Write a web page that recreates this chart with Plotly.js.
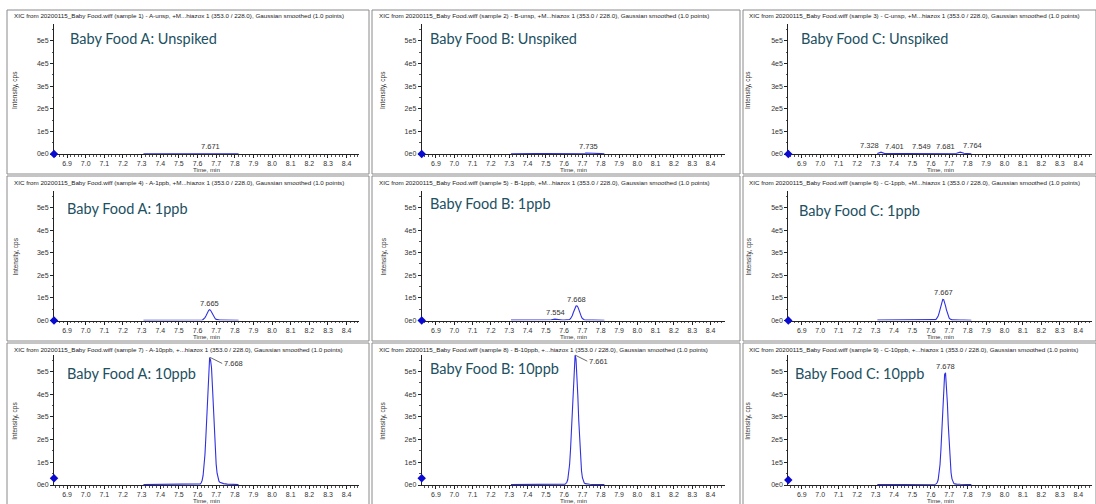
<!DOCTYPE html>
<html><head><meta charset="utf-8">
<script src="https://cdn.plot.ly/plotly-3.0.1.min.js"></script>
<style>html,body{margin:0;padding:0;background:#fff}#chart{width:1096px;height:504px}</style>
</head><body><div id="chart"></div>
<script>
// ---------- DATA ----------
// retention time grid (min)
const timeMin = [7.31,7.33,7.35,7.37,7.39,7.41,7.43,7.45,7.47,7.49,7.51,7.53,7.55,7.57,7.59,
  7.60,7.605,7.61,7.615,7.62,7.625,7.63,7.635,7.64,7.645,7.65,7.655,7.66,7.665,7.67,7.675,7.68,7.685,7.69,7.695,7.70,7.705,7.71,7.715,7.72,7.725,7.73,7.735,7.74,
  7.76,7.78,7.80,7.82];

// intensities (kcps)
const aUnspiked = [1,1,1.5,1,1,1.5,1,1,1.5,1,1.5,2,3,2,1.5,
  1.5,1.5,1.5,1.5,2, 2,2,2,2,2, 2.5,2.5,2.5,3,3, 2.5,2.5,2,2,2, 2,2,1.5,1.5,1.5, 1.5,1.5,1.5,1.5,
  1.5,1.5,1,0.5];
const bUnspiked = [1,1,1,1.5,1,1,1.5,1,1,1,1.5,1,1.5,1,1.5,
  1.5,1.5,1.5,2,2, 2,2,2.5,2.5,3, 3,3,3,3,3, 3,3,3,3,3.5, 3.5,3.5,4,4,4.5, 4.5,5,5,4.5,
  3,2,2,1];
const cUnspiked = [2,8,2,2,3,3.5,2,2,2,2,2,2.5,4,2.5,2,
  2,2,2,2,2, 2,2,2.5,2.5,2.5, 2.5,2.5,3,3,3, 3.5,4,3.5,3,3, 2.5,2.5,2.5,2.5,2.5, 2.5,3,3,3.5,
  8,3,2,1];
const a1ppb = [1,1,1.5,1,1,1,1.5,1,1,1.5,2,2,3,2,1.5,
  1.5,1.5,1.5,1.5,2, 2.5,4.5,7.5,13,20, 29,38,45,47.5,45, 38,29,20,13,8, 5,3.5,3,2.5,2, 2,2,1.5,1.5,
  2,3,2,1];
const b1ppb = [2,2,2,2.5,2,2,2,2,2.5,2,2.5,3,6,3,2,
  2,2,2,2,2, 2.5,4.5,8,13.5,22, 34,47,58,64,65, 60,49,36,24,15, 8.5,5,3,2.5,2, 2,2,2,2,
  2,2,2,1];
const c1ppb = [2,2,2,2,2,2,2,2,2,2,2,2,2.5,2,2,
  2,2,2,2,2.5, 4,6.5,11.5,20,33, 50,69,84,93,92, 82,65,47,30,18, 10,6,3.5,3,3.5, 3,2.5,2.5,2.5,
  2,2,2,1];
const a10ppb = [2,2,2,3,2,2,2,2,3,4,3,3,5,3,2,
  2,3,3,5,10, 21,42,78,135,215, 312,414,512,562,550, 518,435,335,236,152, 92,52,29,17,12, 10,8,7,6,
  4,3,5,2];
const b10ppb = [2,2,3,4,3,2,2,3,3,4,5,4,4,3,3,
  3,4,7,12,24, 48,90,155,244,349, 453,534,572,555,490, 392,285,188,113,63, 32,16,9,6,5, 4,4,3,3,
  2,2,3,2];
const c10ppb = [2,2,2,3,2,2,2,2,2,3,3,3,4,3,3,
  3,3,3,3,3, 3,6,11,23,47, 89,155,244,342,432, 487,494,446,362,263, 171,101,54,27,13, 7,5,4,4,
  3,2,2,2];

const panelTitles = ['Baby Food A: Unspiked','Baby Food B: Unspiked','Baby Food C: Unspiked',
  'Baby Food A: 1ppb','Baby Food B: 1ppb','Baby Food C: 1ppb',
  'Baby Food A: 10ppb','Baby Food B: 10ppb','Baby Food C: 10ppb'];
const sampleNames = ['A-unsp','B-unsp','C-unsp','A-1ppb','B-1ppb','C-1ppb','A-10ppb','B-10ppb','C-10ppb'];
const analyteTags = ['+M...hiazox 1','+M...hiazox 1','+M...hiazox 1','+M...hiazox 1','+M...hiazox 1','+M...hiazox 1',
  '+...hiazox 1','+...hiazox 1','+...hiazox 1'];
const peakRT = [[7.671],[7.735],[7.328,7.401,7.549,7.681,7.764],[7.665],[7.554,7.668],[7.667],[7.668],[7.661],[7.678]];
const peakHeightK = [[3],[5],[8,3.5,4,4,8],[47.5],[6,65],[93],[562],[572],[494]];
const thresholdK = [0,0,0,0,0,0,30,30,22];
const xTickVals = [6.9,7.0,7.1,7.2,7.3,7.4,7.5,7.6,7.7,7.8,7.9,8.0,8.1,8.2,8.3,8.4];
const yTickVals = [0,1e5,2e5,3e5,4e5,5e5];
const yTickText = ['0e0','1e5','2e5','3e5','4e5','5e5'];

const series = [aUnspiked,bUnspiked,cUnspiked,a1ppb,b1ppb,c1ppb,a10ppb,b10ppb,c10ppb];

// ---------- LAYOUT GEOMETRY (pixels) ----------
const W = 1096, H = 504;
const px = x => x / W, py = y => 1 - y / H;
const colAxis = [[54,359.3],[421.7,725],[788.3,1091.7]];
const colRange = [[6.830,8.468],[6.822,8.479],[6.827,8.473]];
const yMax = 5.75e5;
const rowAxis = [[154,24.0],[320.5,190.5],[485,354.5]];
const headerX = [12,377,747], headerY = [15,182,349];
const titleX = [[68,428,799],[65,428,797],[65,428,793]];
const titleY = [[39,39,39],[208,203,210],[373,368,373]];
const yTitleX = [15,383,748];
const timeTitleY = [169.5,336,500.8];
const colBox = [[7,369],[372,740],[743,1096]];
const rowBox = [[10,174],[176,341],[343,506]];
const labelAnchor = {2:['right','center','center','center','left']};

const FONT = 'Liberation Sans, Arial, sans-serif';
const traces = [], annotations = [], shapes = [];
const layout = {
  width: W, height: H, margin:{l:0,r:0,t:0,b:0},
  paper_bgcolor:'#fff', plot_bgcolor:'rgba(0,0,0,0)', showlegend:false,
  font:{family:FONT, color:'#333'}
};

for (let i = 0; i < 9; i++) {
  const r = Math.floor(i/3), c = i % 3;
  const n = i === 0 ? '' : String(i+1);
  const xa = 'x' + n, ya = 'y' + n;
  layout['xaxis' + n] = {
    domain:[px(colAxis[c][0]), px(colAxis[c][1])], range: colRange[c], anchor: ya,
    showgrid:false, zeroline:false, showline:true, linecolor:'#222', linewidth:1,
    ticks:'outside', ticklen:3, tickcolor:'#222', tickwidth:1, layer:'below traces',
    tickmode:'array', tickvals:xTickVals, ticktext:xTickVals.map(v => v.toFixed(1)),
    tickfont:{family:FONT, size:7, color:'#333'},
    minor:{tick0:6.9, dtick:0.02, ticks:'outside', ticklen:1.5, tickcolor:'#555', tickwidth:1},
    fixedrange:true
  };
  layout['yaxis' + n] = {
    domain:[py(rowAxis[r][0]), py(rowAxis[r][1])], range:[0, yMax], anchor: xa,
    showgrid:false, zeroline:false, showline:true, linecolor:'#222', linewidth:1,
    ticks:'outside', ticklen:3, tickcolor:'#222', tickwidth:1, layer:'below traces',
    tickmode:'array', tickvals:yTickVals, ticktext:yTickText,
    tickfont:{family:FONT, size:7, color:'#333'},
    minor:{tick0:0, dtick:5e4, ticks:'outside', ticklen:1.5, tickcolor:'#555', tickwidth:1},
    fixedrange:true
  };
  traces.push({
    type:'scatter', mode:'lines', x: timeMin, y: series[i].map(v => v*1000),
    xaxis: xa, yaxis: ya, line:{color:'#3030e0', width:1.1}, hoverinfo:'skip'
  });
  traces.push({
    type:'scatter', mode:'markers', x:[colRange[c][0]], y:[thresholdK[i]*1000],
    xaxis: xa, yaxis: ya, cliponaxis:false,
    marker:{symbol:'diamond', size:6.5, color:'#0a0ad0'}, hoverinfo:'skip'
  });
  // peak labels
  peakRT[i].forEach((rt, k) => {
    const big = peakHeightK[i][k] > 540;
    if (big) {
      annotations.push({xref:xa, yref:ya, x:rt, y:peakHeightK[i][k]*1000, text:rt.toFixed(3),
        showarrow:true, arrowhead:0, arrowwidth:0.8, arrowcolor:'#444', ax:12, ay:6, standoff:0,
        xanchor:'left', yanchor:'middle', font:{family:FONT, size:7.5, color:'#333'}});
    } else {
      const anc = labelAnchor[i] ? labelAnchor[i][k] : 'center';
      annotations.push({xref:xa, yref:ya, x:rt, y:peakHeightK[i][k]*1000, text:rt.toFixed(3),
        showarrow:false, xanchor:anc, yanchor:'bottom', yshift:0,
        font:{family:FONT, size:7.5, color:'#333'}});
    }
  });
  // header
  annotations.push({xref:'paper', yref:'paper', x:px(headerX[c]), y:py(headerY[r]), xanchor:'left', yanchor:'middle',
    showarrow:false, text:'XIC from 20200115_Baby Food.wiff (sample ' + (i+1) + ') - ' + sampleNames[i] + ', ' + analyteTags[i] +
      ' (353.0 / 228.0), Gaussian smoothed (1.0 points)',
    font:{family:FONT, size:6.25, color:'#222'}});
  // panel title
  annotations.push({xref:'paper', yref:'paper', x:px(titleX[r][c]), y:py(titleY[r][c]), xanchor:'left', yanchor:'middle',
    showarrow:false, text:panelTitles[i], font:{family:'Lato, Liberation Sans, sans-serif', size:14.5, color:'#21505f'}});
  // axis titles
  annotations.push({xref:'paper', yref:'paper', x:px(yTitleX[c]), y:py((rowAxis[r][0]+rowAxis[r][1])/2 + 1),
    xanchor:'center', yanchor:'middle', textangle:-90, showarrow:false, text:'Intensity, cps',
    font:{family:FONT, size:6.5, color:'#333'}});
  annotations.push({xref:'paper', yref:'paper', x:px((colAxis[c][0]+colAxis[c][1])/2), y:py(timeTitleY[r]),
    xanchor:'center', yanchor:'middle', showarrow:false, text:'Time, min',
    font:{family:FONT, size:6.2, color:'#333'}, borderpad:0});
  // panel frame
  shapes.push({type:'rect', xref:'paper', yref:'paper', x0:px(colBox[c][0]), x1:px(colBox[c][1]),
    y0:py(rowBox[r][1]), y1:py(rowBox[r][0]), line:{color:'#8a8a8a', width:1}, layer:'below'});
}
layout.annotations = annotations;
layout.shapes = shapes;
Plotly.newPlot('chart', traces, layout, {staticPlot:true, displayModeBar:false});
</script>
</body></html>
